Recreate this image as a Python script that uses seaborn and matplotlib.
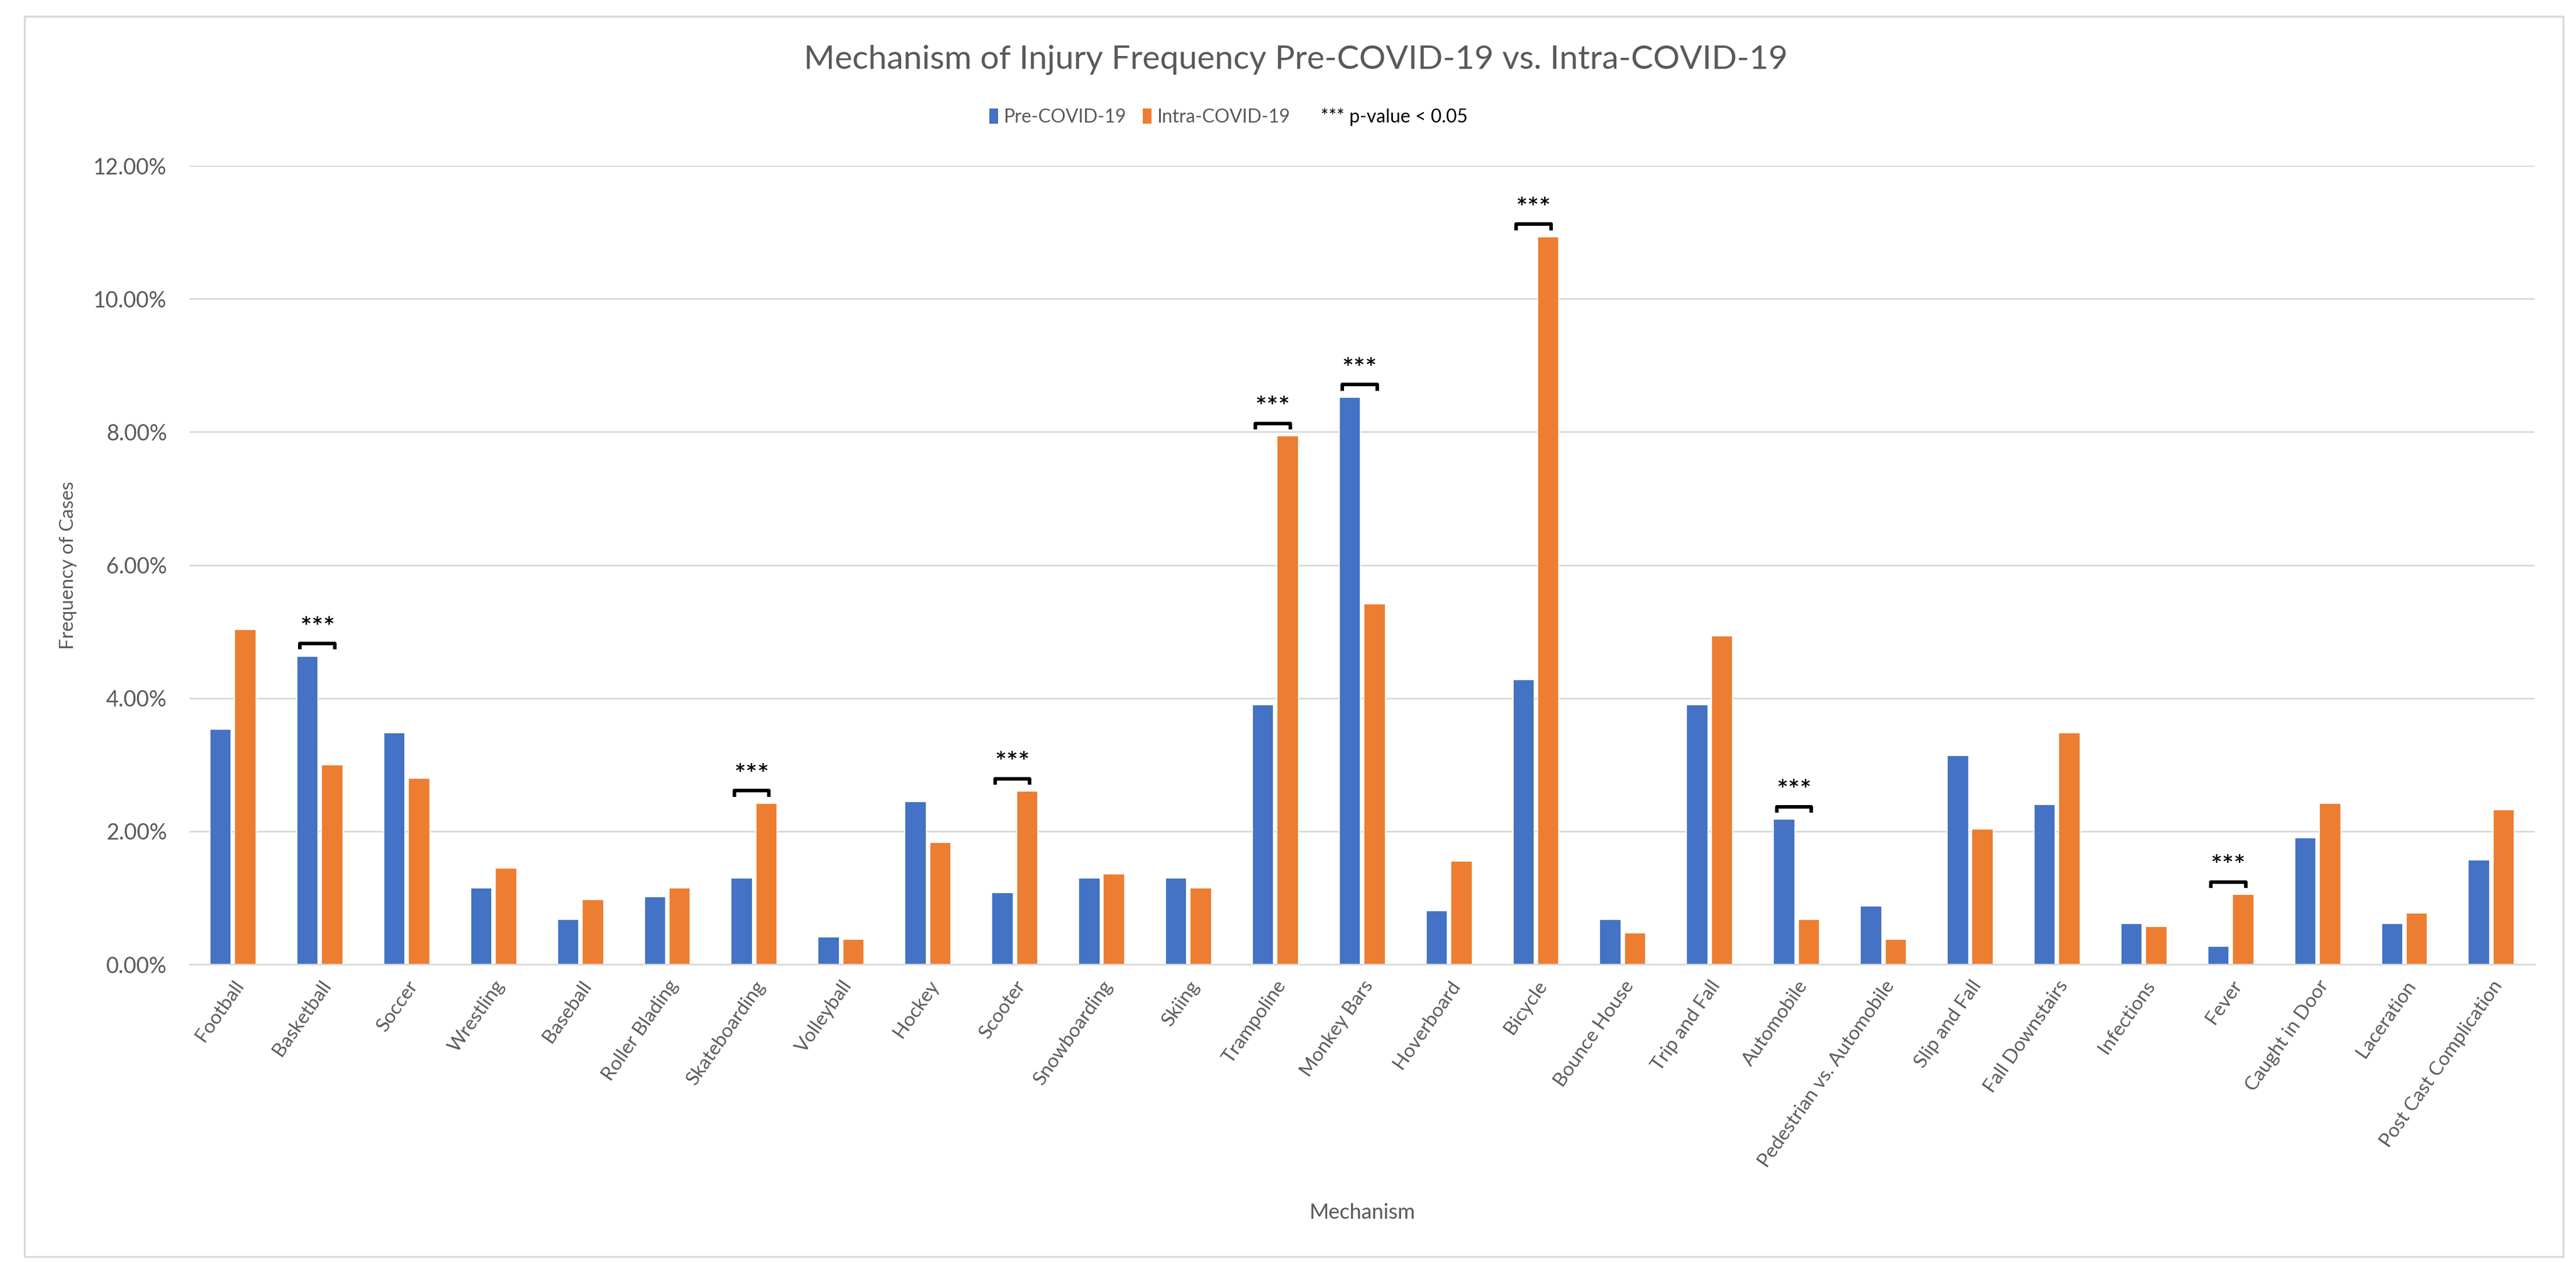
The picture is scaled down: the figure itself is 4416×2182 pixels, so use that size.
import matplotlib
matplotlib.use('Agg')
import matplotlib.pyplot as plt
import matplotlib.ticker as ticker
from matplotlib.patches import Rectangle, Patch
import seaborn as sns
import pandas as pd

# Data (percent of cases)
mechanisms = ['Football', 'Basketball', 'Soccer', 'Wrestling', 'Baseball', 'Roller Blading',
              'Skateboarding', 'Volleyball', 'Hockey', 'Scooter', 'Snowboarding', 'Skiing',
              'Trampoline', 'Monkey Bars', 'Hoverboard', 'Bicycle', 'Bounce House',
              'Trip and Fall', 'Automobile', 'Pedestrian vs. Automobile', 'Slip and Fall',
              'Fall Downstairs', 'Infections', 'Fever', 'Caught in Door', 'Laceration',
              'Post Cast Complication']
pre_covid = [3.53, 4.63, 3.48, 1.15, 0.68, 1.02, 1.30, 0.41, 2.45, 1.08, 1.30, 1.30,
             3.90, 8.52, 0.81, 4.28, 0.68, 3.90, 2.18, 0.88, 3.14, 2.40, 0.61, 0.27,
             1.90, 0.61, 1.57]
intra_covid = [5.03, 3.00, 2.80, 1.45, 0.97, 1.15, 2.42, 0.38, 1.83, 2.60, 1.36, 1.15,
               7.94, 5.42, 1.55, 10.93, 0.47, 4.94, 0.68, 0.38, 2.03, 3.48, 0.57, 1.05,
               2.42, 0.77, 2.32]
significant = ['Basketball', 'Skateboarding', 'Scooter', 'Trampoline', 'Monkey Bars',
               'Bicycle', 'Automobile', 'Fever']
periods = ['Pre-COVID-19', 'Intra-COVID-19']
y_ticks = [0, 2, 4, 6, 8, 10, 12]

df = pd.DataFrame({
    'Mechanism': mechanisms * 2,
    'Period': [periods[0]] * len(mechanisms) + [periods[1]] * len(mechanisms),
    'Frequency': pre_covid + intra_covid,
})

sns.set_theme(style='white')
plt.rcParams['font.family'] = ['Lato', 'DejaVu Sans']

BLUE = '#4472C4'
ORANGE = '#ED7D31'
GRAY = '#595959'
GRID = '#D9D9D9'

fig = plt.figure(figsize=(22.08, 10.91), dpi=200)
ax = fig.add_axes([0.0736, 0.2424, 0.9104, 0.6274])

sns.barplot(data=df, x='Mechanism', y='Frequency', hue='Period', order=mechanisms,
            hue_order=periods, palette=[BLUE, ORANGE], width=0.57, gap=0.14,
            edgecolor='white', linewidth=0.6, saturation=1, ax=ax, legend=False)

ax.set_ylim(0, 12)
ax.set_xlim(-0.5, len(mechanisms) - 0.5)
ax.set_yticks(y_ticks)
ax.yaxis.set_major_formatter(ticker.FuncFormatter(lambda v, p: f'{v:.2f}%'))
ax.yaxis.grid(True, color=GRID, linewidth=1.0)
ax.set_axisbelow(True)
for s in ['top', 'right', 'left']:
    ax.spines[s].set_visible(False)
ax.spines['bottom'].set_color(GRID)
ax.spines['bottom'].set_linewidth(1.0)

ax.tick_params(axis='y', length=0, labelsize=13.5, labelcolor=GRAY, pad=14)
ax.tick_params(axis='x', which='major', length=0, labelsize=12, labelcolor=GRAY, pad=8)
ax.set_xticks([i + 0.5 for i in range(-1, len(mechanisms))], minor=True)
ax.tick_params(axis='x', which='minor', length=6, color=GRID, width=1.0)
plt.setp(ax.get_xticklabels(), rotation=55, ha='right', rotation_mode='anchor')

ax.set_ylabel('Frequency of Cases', fontsize=12, color=GRAY, labelpad=10)
ax.set_xlabel('Mechanism', fontsize=13, color=GRAY, labelpad=20)

# significance brackets
pre_bars, intra_bars = ax.containers[0], ax.containers[1]
for name in significant:
    i = mechanisms.index(name)
    b1, b2 = pre_bars[i], intra_bars[i]
    x1 = b1.get_x() + b1.get_width() * 0.15
    x2 = b2.get_x() + b2.get_width() * 0.62
    top = max(b1.get_height(), b2.get_height()) + 0.19
    ax.plot([x1, x1, x2, x2], [top - 0.09, top, top, top - 0.09], color='black',
            linewidth=2.2, solid_capstyle='butt')
    ax.text((x1 + x2) / 2, top + 0.04, '***', ha='center', va='bottom',
            fontsize=17, color='black', fontweight='semibold')

fig.suptitle('Mechanism of Injury Frequency Pre-COVID-19 vs. Intra-COVID-19',
             x=0.503, y=0.965, fontsize=20.5, color=GRAY)

handles = [Patch(facecolor=BLUE, edgecolor='none'),
           Patch(facecolor=ORANGE, edgecolor='none'),
           Patch(facecolor='none', edgecolor='none')]
labels = periods + ['*** p-value < 0.05']
leg = fig.legend(handles, labels, loc='center', bbox_to_anchor=(0.477, 0.908), ncol=3,
                 frameon=False, fontsize=11.5, handlelength=0.45, handleheight=0.9,
                 handletextpad=0.3, columnspacing=0.9)
for t in leg.get_texts()[:2]:
    t.set_color(GRAY)
leg.get_texts()[2].set_color('black')

# chart border
fig.patches.append(Rectangle((0.0095, 0.013), 0.9855, 0.974, transform=fig.transFigure,
                             fill=False, edgecolor=GRID, linewidth=1.2))

fig.savefig('out.png', dpi=200, facecolor='white')
